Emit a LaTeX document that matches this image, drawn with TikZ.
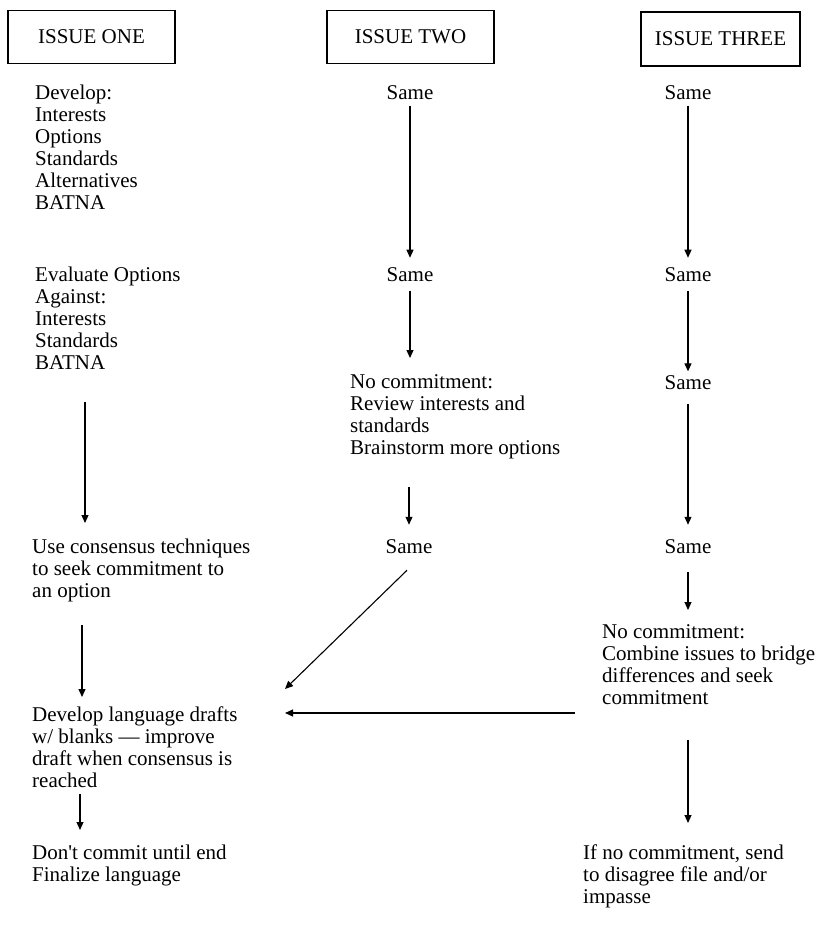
\documentclass[tikz,border=0pt]{standalone}
\usepackage{fontspec}
\setmainfont{Liberation Serif}
\usetikzlibrary{arrows.meta}
\begin{document}
\begin{tikzpicture}[x=1pt,y=-1pt,
  txt/.style={inner sep=0pt, align=left, anchor=north west, font=\fontsize{21}{22}\selectfont},
  same/.style={inner sep=0pt, font=\fontsize{21}{22}\selectfont},
  issuebox/.style={draw, line width=1.3pt, inner sep=0pt, minimum width=167pt, minimum height=53pt, font=\fontsize{21}{22}\selectfont},
  arr/.style={line width=1.1pt, -{Triangle[length=8pt,width=7pt]}}]
\useasboundingbox (0,0) rectangle (822,942);
% headers
\node[issuebox] (b1) at (91.5,37) {ISSUE ONE};
\node[issuebox] (b2) at (410.5,37) {ISSUE TWO};
\node[issuebox, minimum width=159pt, minimum height=54pt] (b3) at (720.5,39) {ISSUE THREE};
% column 1
\node[txt] (dev) at (35,85) {Develop:\\Interests\\Options\\Standards\\Alternatives\\BATNA};
\node[txt] (ev) at (35,267) {Evaluate Options\\Against:\\Interests\\Standards\\BATNA};
\node[txt] (use) at (32,539) {Use consensus techniques\\to seek commitment to\\an option};
\node[txt] (dl) at (32,707) {Develop language drafts\\w/ blanks — improve\\draft when consensus is\\reached};
\node[txt] (dc) at (32,845) {Don\textquotesingle t commit until end\\Finalize language};
% column 2
\node[same] (s21) at (410,93) {Same};
\node[same] (s22) at (410,275) {Same};
\node[txt] (nc2) at (350,374) {No commitment:\\Review interests and\\standards\\Brainstorm more options};
\node[same] (s23) at (409,547) {Same};
% column 3
\node[same] (s31) at (688,93) {Same};
\node[same] (s32) at (688,275) {Same};
\node[same] (s33) at (688,383) {Same};
\node[same] (s34) at (688,547) {Same};
\node[txt] (nc3) at (602,624) {No commitment:\\Combine issues to bridge\\differences and seek\\commitment};
\node[txt] (inc) at (583,845) {If no commitment, send\\to disagree file and/or\\impasse};
% arrows column 1
\draw[arr] ([xshift=50pt,yshift=-32pt]ev.south west) -- ([xshift=53pt,yshift=16pt]use.north west);
\draw[arr] ([xshift=50pt,yshift=-23pt]use.south west) -- ([xshift=50pt,yshift=10pt]dl.north west);
\draw[arr] ([xshift=48pt,yshift=-6pt]dl.south west) -- ([xshift=48pt,yshift=15pt]dc.north west);
% arrows column 2
\draw[arr] ([yshift=-5.4pt]s21.south) -- ([yshift=10pt]s22.north);
\draw[arr] ([yshift=-8.4pt]s22.south) -- ([xshift=60pt,yshift=16pt]nc2.north west);
\draw[arr] ([xshift=59pt,yshift=-28pt]nc2.south west) -- ([yshift=15pt]s23.north);
\draw[arr] ([xshift=-2pt,yshift=-16pt]s23.south) -- ([xshift=253pt,yshift=18pt]dl.north west);
% arrows column 3
\draw[arr] ([yshift=-5.4pt]s31.south) -- ([yshift=10pt]s32.north);
\draw[arr] ([yshift=-8.4pt]s32.south) -- ([yshift=4.4pt]s33.north);
\draw[arr] ([yshift=-13.4pt]s33.south) -- ([yshift=15pt]s34.north);
\draw[arr] ([yshift=-18pt]s34.south) -- ([xshift=86pt,yshift=14pt]nc3.north west);
\draw[arr] ([xshift=-27pt,yshift=-89pt]nc3.north west) -- ([xshift=253pt,yshift=-6pt]dl.north west);
\draw[arr] ([xshift=86pt,yshift=-35pt]nc3.south west) -- ([xshift=105pt,yshift=22pt]inc.north west);
\end{tikzpicture}
\end{document}
